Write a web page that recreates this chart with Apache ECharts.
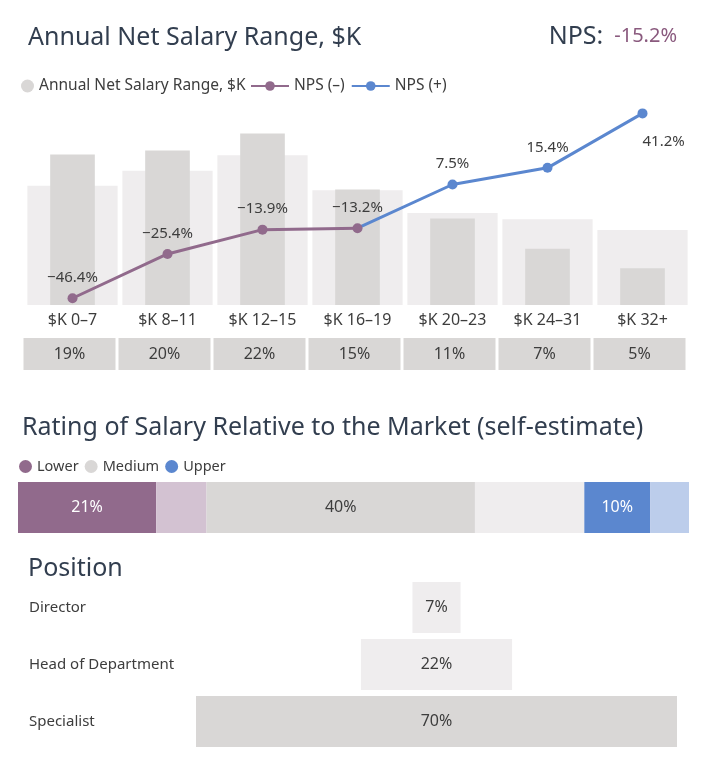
<!DOCTYPE html>
<html>
<head>
<meta charset="utf-8">
<script src="https://cdn.jsdelivr.net/npm/echarts@6/dist/echarts.min.js"></script>
<style>
  html, body { margin: 0; padding: 0; background: #fff; }
  #chart { width: 706px; height: 766px; }
</style>
</head>
<body>
<div id="chart"></div>
<script>
// salary ranges
var ranges = ["$K 0–7", "$K 8–11", "$K 12–15", "$K 16–19", "$K 20–23", "$K 24–31", "$K 32+"];
var shares = [19, 20, 22, 15, 11, 7, 5];              // row of boxes under the chart
var shareBars = [19.3, 19.8, 22.0, 14.8, 11.1, 7.2, 4.7]; // dark bars
var rangeBg = [15.3, 17.2, 19.2, 14.7, 11.8, 11.0, 9.6];  // wide light bars
var nps = [-46.4, -25.4, -13.9, -13.2, 7.5, 15.4, 41.2];
var npsTotal = "-15.2%";

// rating of salary vs market
var ratingNames = ["Lower", "Lower (light)", "Medium", "Medium (light)", "Upper", "Upper (light)"];
var ratingValues = [20.6, 7.5, 40.0, 16.3, 9.8, 5.8];

// position
var positions = ["Director", "Head of Department", "Specialist"];
var positionShare = [7, 22, 70];

var PURPLE = "#916a8c", PURPLE_L = "#d3c2d2";
var GRAY = "#d9d7d6", GRAY_L = "#efedee";
var BLUE = "#5b87cf", BLUE_L = "#bccdeb";
var TITLE = "#323e4f", TEXT = "#3d3d3d";

var dom = document.getElementById("chart");
var myChart = echarts.init(dom, null, { renderer: "canvas" });

// split the NPS line: purple while negative, blue once positive
var npsNeg = nps.map(function (v) { return v < 0 ? v : "-"; });
var npsPos = nps.map(function (v, i) {
  if (v >= 0) return v;
  if (i + 1 < nps.length && nps[i + 1] >= 0) {
    return { value: v, symbol: "none", label: { show: false } };
  }
  return "-";
});
function pct(v) {
  return (v < 0 ? "−" + Math.abs(v) : v) + "%";
}

var ratingColors = [PURPLE, PURPLE_L, GRAY, GRAY_L, BLUE, BLUE_L];
var ratingLabelColors = ["#fff", null, TEXT, null, "#fff", null];

var posMax = Math.max.apply(null, positionShare);
var posColors = [GRAY_L, GRAY_L, GRAY];

var titleStyle = { fontSize: 25, fontWeight: "normal", color: TITLE };

var option = {
  textStyle: { fontFamily: "Noto Sans" },
  animation: false,
  title: [
    {
      text: "Annual Net Salary Range, $K",
      left: 28, top: 25, padding: 0,
      textStyle: titleStyle
    },
    {
      text: "{a|NPS:}{b|" + npsTotal + "}",
      right: 29, top: 24, padding: 0,
      textStyle: {
        fontWeight: "normal",
        rich: {
          a: { fontSize: 25, color: TITLE, fontWeight: "normal", fontFamily: "Noto Sans" },
          b: { fontSize: 20, color: "#8a5a7e", fontWeight: "normal", fontFamily: "Noto Sans", padding: [0, 0, 0, 11] }
        }
      }
    },
    {
      text: "Rating of Salary Relative to the Market (self-estimate)",
      left: 22, top: 415, padding: 0,
      textStyle: titleStyle
    },
    {
      text: "Position",
      left: 28, top: 556, padding: 0,
      textStyle: titleStyle
    }
  ],
  legend: [
    {
      data: ["Annual Net Salary Range, $K"],
      left: 21, top: 78, padding: 0,
      icon: "circle", itemWidth: 13, itemHeight: 13,
      selectedMode: false,
      textStyle: { fontSize: 15.5, color: TEXT }
    },
    {
      data: ["NPS (–)", "NPS (+)"],
      left: 250, top: 78, padding: 0, itemGap: 6,
      itemWidth: 38, itemHeight: 12,
      selectedMode: false,
      textStyle: { fontSize: 15.5, color: TEXT }
    },
    {
      data: ["Lower", "Medium", "Upper"],
      left: 19, top: 459, padding: 0, itemGap: 6,
      icon: "circle", itemWidth: 13, itemHeight: 13,
      selectedMode: false,
      textStyle: { fontSize: 14.5, color: TEXT }
    }
  ],
  grid: [
    { left: 25, right: 16, top: 110, height: 195 },
    { left: 22, right: 19, top: 300, height: 38 },
    { left: 18, right: 17, top: 482, height: 51 },
    { left: 196, right: 29, top: 579, height: 171 }
  ],
  xAxis: [
    {
      type: "category", gridIndex: 0, data: ranges,
      axisLine: { show: false }, axisTick: { show: false },
      axisLabel: { margin: 7, fontSize: 16, color: TEXT, interval: 0 }
    },
    { type: "category", gridIndex: 0, data: ranges, show: false },
    {
      type: "category", gridIndex: 1,
      data: shares.map(function (v) { return v + "%"; }),
      axisLine: { show: false }, axisTick: { show: false },
      axisLabel: {
        interval: 0, margin: 0, fontSize: 16, color: TEXT,
        backgroundColor: GRAY, width: 92, height: 32, lineHeight: 32, align: "center"
      }
    },
    { type: "value", gridIndex: 2, min: 0, max: ratingValues.reduce(function (a, b) { return a + b; }, 0), show: false },
    { type: "value", gridIndex: 3, min: 0, max: posMax, show: false }
  ],
  yAxis: [
    { type: "value", gridIndex: 0, min: 0, max: 25, show: false },
    { type: "value", gridIndex: 0, min: -49.6, max: 42.8, show: false },
    { type: "value", gridIndex: 1, show: false },
    { type: "category", gridIndex: 2, data: ["Rating"], show: false },
    {
      type: "category", gridIndex: 3, data: positions, inverse: true,
      axisLine: { show: false }, axisTick: { show: false },
      axisLabel: { align: "left", margin: 167, fontSize: 15, color: TEXT }
    }
  ],
  series: [
    {
      name: "Range background", type: "bar",
      xAxisIndex: 1, yAxisIndex: 0,
      data: rangeBg, barCategoryGap: "5%",
      itemStyle: { color: GRAY_L }, silent: true, z: 1
    },
    {
      name: "Annual Net Salary Range, $K", type: "bar",
      xAxisIndex: 0, yAxisIndex: 0,
      data: shareBars, barWidth: "47%",
      itemStyle: { color: GRAY }, z: 2
    },
    {
      name: "NPS (–)", type: "line",
      xAxisIndex: 0, yAxisIndex: 1,
      data: npsNeg, symbol: "circle", symbolSize: 10,
      lineStyle: { width: 3, color: PURPLE }, itemStyle: { color: PURPLE },
      label: {
        show: true, position: "top", distance: 8, fontSize: 15, color: TEXT,
        formatter: function (p) { return pct(p.value); }
      },
      z: 4
    },
    {
      name: "NPS (+)", type: "line",
      xAxisIndex: 0, yAxisIndex: 1,
      data: npsPos, symbol: "circle", symbolSize: 10,
      lineStyle: { width: 3, color: BLUE }, itemStyle: { color: BLUE },
      label: {
        show: true, position: "top", distance: 8, fontSize: 15, color: TEXT,
        formatter: function (p) { return pct(p.value); }
      },
      labelLayout: function (params) {
        if (params.dataIndex === nps.length - 1) {
          return { y: params.rect.y + params.rect.height + 16 };
        }
      },
      z: 3
    }
  ]
};

// rating stack
ratingNames.forEach(function (name, i) {
  option.series.push({
    name: name, type: "bar", stack: "rating",
    xAxisIndex: 3, yAxisIndex: 3,
    barWidth: "100%",
    data: [ratingValues[i]],
    itemStyle: { color: ratingColors[i] },
    label: {
      show: ratingLabelColors[i] !== null,
      position: "inside", fontSize: 16, color: ratingLabelColors[i] || TEXT,
      formatter: function (p) { return Math.round(p.value) + "%"; }
    }
  });
});

// position: centered bars
option.series.push({
  name: "pos-offset", type: "bar", stack: "pos",
  xAxisIndex: 4, yAxisIndex: 4, barWidth: 51,
  data: positionShare.map(function (v) { return (posMax - v) / 2; }),
  itemStyle: { color: "rgba(0,0,0,0)" }, silent: true
});
option.series.push({
  name: "Position", type: "bar", stack: "pos",
  xAxisIndex: 4, yAxisIndex: 4, barWidth: 51,
  data: positionShare.map(function (v, i) {
    return { value: v, itemStyle: { color: posColors[i] } };
  }),
  label: {
    show: true, position: "inside", fontSize: 16, color: TEXT,
    formatter: function (p) { return p.value + "%"; }
  }
});

option && myChart.setOption(option);

window.addEventListener("resize", myChart.resize);
</script>
</body>
</html>
